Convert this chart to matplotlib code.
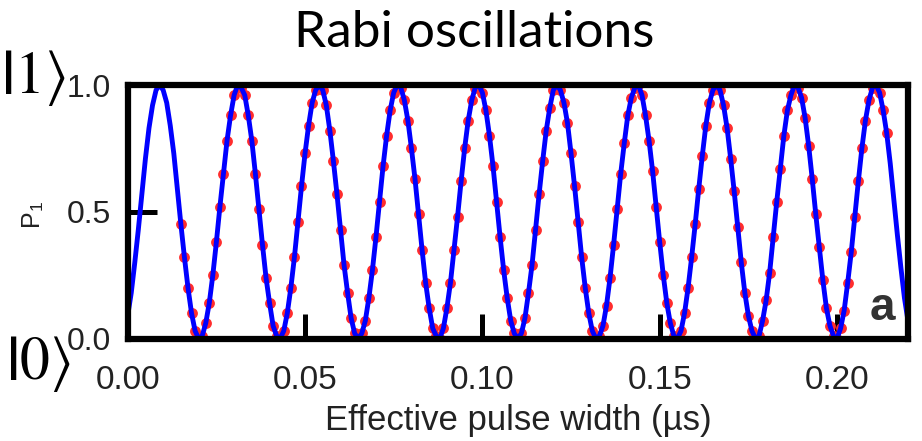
import numpy as np
import matplotlib
matplotlib.use('Agg')
import matplotlib.pyplot as plt

"""DATA"""
# pulse widths in ns, 1 ns steps from 0 to 220
PulseNs = np.arange(0, 221)
# fitted P1 at each pulse width
P1Fit = [
    0.09, 0.18, 0.30, 0.43, 0.57, 0.71, 0.83, 0.92, 0.98, 1.00,
    0.98, 0.93, 0.84, 0.73, 0.59, 0.45, 0.32, 0.20, 0.10, 0.03,
    0.00, 0.01, 0.06, 0.14, 0.25, 0.38, 0.52, 0.65, 0.78, 0.88,
    0.96, 1.00, 0.99, 0.96, 0.88, 0.78, 0.65, 0.51, 0.37, 0.24,
    0.14, 0.05, 0.01, 0.00, 0.03, 0.10, 0.20, 0.32, 0.46, 0.60,
    0.73, 0.84, 0.93, 0.98, 1.00, 0.98, 0.92, 0.82, 0.70, 0.57,
    0.43, 0.29, 0.18, 0.08, 0.02, 0.00, 0.02, 0.07, 0.16, 0.27,
    0.40, 0.54, 0.68, 0.80, 0.90, 0.97, 1.00, 0.99, 0.94, 0.86,
    0.75, 0.63, 0.49, 0.35, 0.22, 0.12, 0.04, 0.01, 0.00, 0.04,
    0.12, 0.22, 0.35, 0.48, 0.62, 0.75, 0.86, 0.94, 0.99, 1.00,
    0.97, 0.90, 0.80, 0.68, 0.54, 0.40, 0.27, 0.16, 0.07, 0.02,
    0.00, 0.02, 0.08, 0.18, 0.29, 0.43, 0.57, 0.70, 0.82, 0.91,
    0.98, 1.00, 0.98, 0.93, 0.85, 0.73, 0.60, 0.46, 0.32, 0.20,
    0.10, 0.03, 0.00, 0.01, 0.05, 0.13, 0.24, 0.37, 0.51, 0.65,
    0.77, 0.88, 0.95, 0.99, 1.00, 0.96, 0.88, 0.78, 0.66, 0.52,
    0.38, 0.25, 0.14, 0.06, 0.01, 0.00, 0.03, 0.10, 0.20, 0.32,
    0.45, 0.59, 0.72, 0.84, 0.93, 0.98, 1.00, 0.98, 0.92, 0.83,
    0.71, 0.58, 0.44, 0.30, 0.18, 0.09, 0.03, 0.00, 0.01, 0.07,
    0.15, 0.26, 0.40, 0.54, 0.67, 0.80, 0.90, 0.96, 1.00, 0.99,
    0.95, 0.87, 0.76, 0.63, 0.49, 0.36, 0.23, 0.12, 0.05, 0.01,
    0.00, 0.04, 0.11, 0.22, 0.34, 0.48, 0.62, 0.75, 0.86, 0.94,
    0.99, 1.00, 0.97, 0.90, 0.81, 0.69, 0.55, 0.41, 0.28, 0.16,
    0.07,
]
# measured points span 15 ns .. 214 ns
MeasStart = 15
MeasStop = 214
XTicks = [0.00, 0.05, 0.10, 0.15, 0.20]
YTicks = [0.0, 0.5, 1.0]

"""PLOT"""
PulseUs = PulseNs / 1000.0
P1Fit = np.asarray(P1Fit)
Meas = (PulseNs >= MeasStart) & (PulseNs <= MeasStop)

plt.rcParams['mathtext.fontset'] = 'stix'
fig = plt.figure(figsize=(9.22, 4.41), dpi=100)
ax = fig.add_axes([0.1385, 0.2324, 0.8463, 0.5748])

# measured points sit under the fit line
ax.plot(PulseUs[Meas], P1Fit[Meas], 'o', color='#ff2d2d', markersize=7.8,
        markeredgewidth=0, zorder=2)
ax.plot(PulseUs, P1Fit, '-', color='#0000ff', linewidth=3.5,
        solid_joinstyle='round', zorder=3)

ax.set_xlim(0, 0.22)
ax.set_ylim(0, 1.0)
ax.set_xticks(XTicks)
ax.set_xticklabels(['%.2f' % v for v in XTicks])
ax.set_yticks(YTicks)
ax.set_yticklabels(['%.1f' % v for v in YTicks])

for s in ax.spines.values():
    s.set_linewidth(4.5)
    s.set_color('black')
    s.set_zorder(4)

ax.tick_params(axis='x', direction='in', length=18, width=3.6, pad=19,
               labelsize=24, labelcolor='#222222')
ax.tick_params(axis='y', direction='in', length=21, width=3.6, pad=12,
               labelsize=23, labelcolor='#222222')
for lab in ax.get_xticklabels() + ax.get_yticklabels():
    lab.set_family('Liberation Sans')

ax.set_xlabel('Effective pulse width (\u00b5s)', family='Liberation Sans',
              fontsize=25, color='#222222', labelpad=6)
fig.text(0.036, 0.512, r'P$_\mathregular{1}$', rotation=90, family='Liberation Sans',
         fontsize=18, color='#222222', ha='center', va='center')

# panel letter
ax.text(0.983, 0.073, 'a', transform=ax.transAxes, ha='right', va='baseline',
        family='Liberation Sans', fontweight='bold', fontsize=33, color='#333333')

# title and state labels
fig.text(0.514, 0.893, 'Rabi oscillations', family='Lato', fontsize=37,
         ha='center', va='baseline', color='black')
fig.text(0.001, 1 - 93 / 441, r'$\mathbf{|}1\rangle$', fontsize=43,
         ha='left', va='baseline')
fig.text(0.006, 1 - 379 / 441, r'$\mathbf{|}0\rangle$', fontsize=43,
         ha='left', va='baseline')

fig.savefig('out.png', dpi=100)
